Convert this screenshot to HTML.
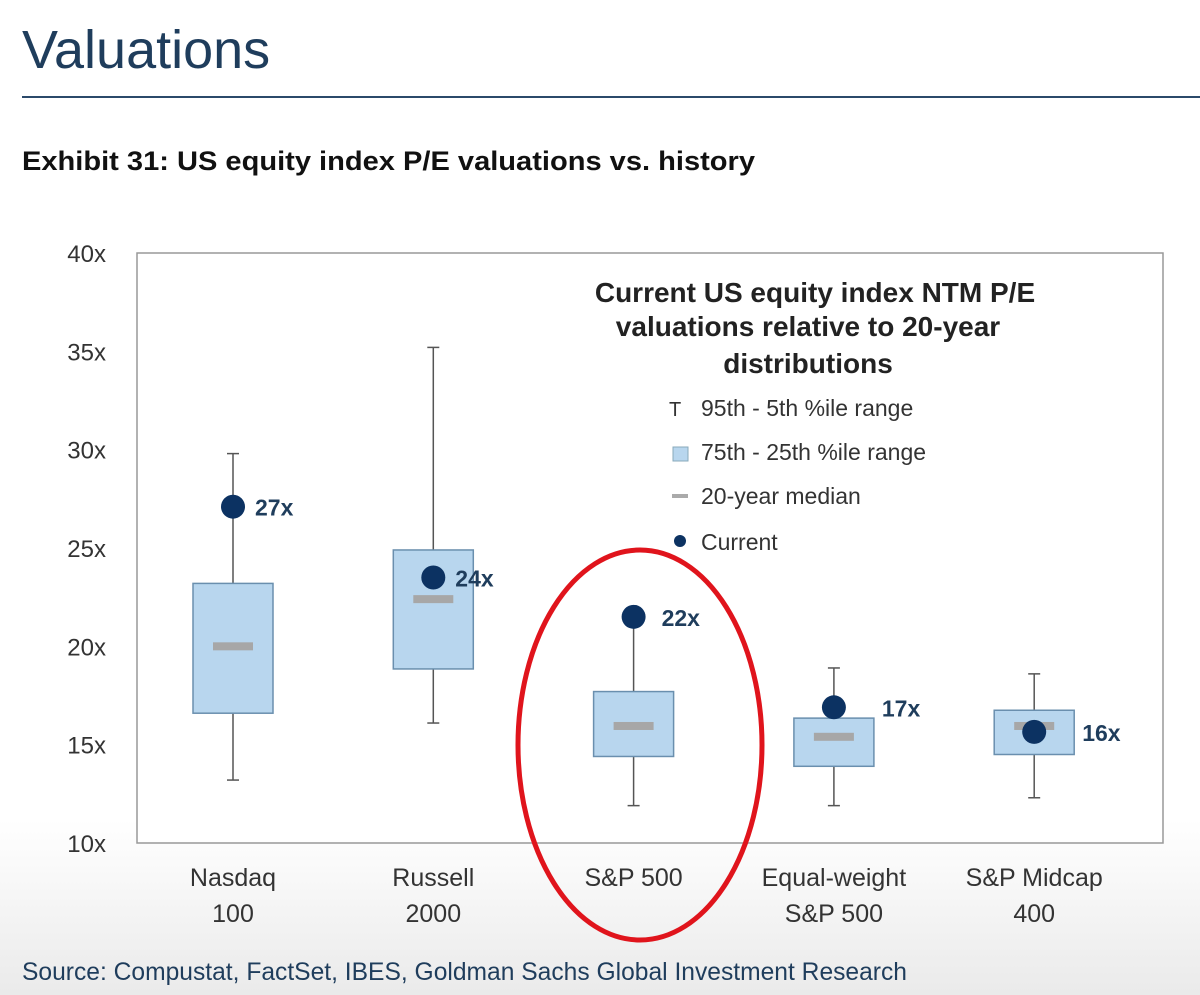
<!DOCTYPE html>
<html><head><meta charset="utf-8"><style>
body{margin:0;width:1200px;height:995px;overflow:hidden;background:linear-gradient(#fff 0,#fff 820px,#eaeaea 995px);font-family:"Liberation Sans",sans-serif}
</style></head><body>
<svg width="1200" height="995" style="position:absolute;left:0;top:0">
<text x="22" y="68" font-size="54" fill="#1f3d5c" font-family="Liberation Sans Narrow, Liberation Sans, sans-serif">Valuations</text>
<line x1="22" y1="97" x2="1200" y2="97" stroke="#2b4a6a" stroke-width="2"/>
<text x="22" y="170" font-size="27" font-weight="bold" fill="#111" textLength="733" lengthAdjust="spacingAndGlyphs">Exhibit 31: US equity index P/E valuations vs. history</text>
<rect x="137" y="253" width="1026" height="590" fill="#fff" stroke="#999" stroke-width="1.5"/>
<g id="yaxis"></g>
<g id="marks"></g>
<g id="xaxis"></g>
<g font-size="28" font-weight="bold" fill="#222" text-anchor="middle">
<text x="815" y="302">Current US equity index NTM P/E</text>
<text x="808" y="336">valuations relative to 20-year</text>
<text x="808" y="373">distributions</text>
</g>
<g font-size="23" fill="#333">
<text x="669" y="416" font-size="20">T</text>
<text x="701" y="416">95th - 5th %ile range</text>
<rect x="673" y="447" width="15" height="14" fill="#b8d6ee" stroke="#8ab"/>
<text x="701" y="460">75th - 25th %ile range</text>
<rect x="672" y="494" width="16" height="4" fill="#aaa"/>
<text x="701" y="504">20-year median</text>
<circle cx="680" cy="541" r="6" fill="#0c3262"/>
<text x="701" y="550">Current</text>
</g>
<ellipse cx="640" cy="745" rx="122" ry="195" fill="none" stroke="#e0141c" stroke-width="5"/>
<text x="22" y="980" font-size="25" fill="#1f3d5c" textLength="885" lengthAdjust="spacingAndGlyphs">Source: Compustat, FactSet, IBES, Goldman Sachs Global Investment Research</text>
</svg>
<script>
const categories=[["Nasdaq","100"],["Russell","2000"],["S&P 500",""],["Equal-weight","S&P 500"],["S&P Midcap","400"]];
const p95=[29.8,35.2,21.1,18.9,18.6];
const p5=[13.2,16.1,11.9,11.9,12.3];
const p75=[23.2,24.9,17.7,16.35,16.75];
const p25=[16.6,18.85,14.4,13.9,14.5];
const medians=[20,22.4,15.95,15.4,15.95];
const current=[27.1,23.5,21.5,16.9,15.65];
const currentLabels=["27x","24x","22x","17x","16x"];
const yTicks=[10,15,20,25,30,35,40];
const NS="http://www.w3.org/2000/svg";
const y=v=>843-(v-10)*(590/30);
const x=i=>233+i*200.3;
function mk(par,tag,at){const e=document.createElementNS(NS,tag);for(const k in at)e.setAttribute(k,at[k]);document.getElementById(par).appendChild(e);return e;}
yTicks.forEach(t=>{const e=mk("yaxis","text",{x:106,y:y(t)+9,"font-size":24,fill:"#333","text-anchor":"end"});e.textContent=t+"x";

});
categories.forEach((c,i)=>{c.forEach((s,j)=>{if(!s)return;const e=mk("xaxis","text",{x:x(i),y:886+j*36,"font-size":25,fill:"#333","text-anchor":"middle"});e.textContent=s;

});
const w=mk("marks","line",{x1:x(i),x2:x(i),y1:y(p95[i]),y2:y(p5[i]),stroke:"#555","stroke-width":1.5});


[p95[i],p5[i]].forEach(v=>{const c2=mk("marks","line",{x1:x(i)-6,x2:x(i)+6,y1:y(v),y2:y(v),stroke:"#555","stroke-width":1.5});

});
const b=mk("marks","rect",{x:x(i)-40,y:y(p75[i]),width:80,height:y(p25[i])-y(p75[i]),fill:"#b8d6ee",stroke:"#6a8fae","stroke-width":1.5});


const m=mk("marks","rect",{x:x(i)-20,y:y(medians[i])-4,width:40,height:8,fill:"#a7a7a7"});


const d=mk("marks","circle",{cx:x(i),cy:y(current[i]),r:12,fill:"#0c3262"});


const l=mk("marks","text",{x:x(i)+(i==3||i==4?x(0)*0+48:22),y:y(current[i])+9,"font-size":23,"font-weight":"bold",fill:"#1f3d5c"});
if(i==2)l.setAttribute("x",x(i)+28);
l.textContent=currentLabels[i];


});
</script>
</body></html>
